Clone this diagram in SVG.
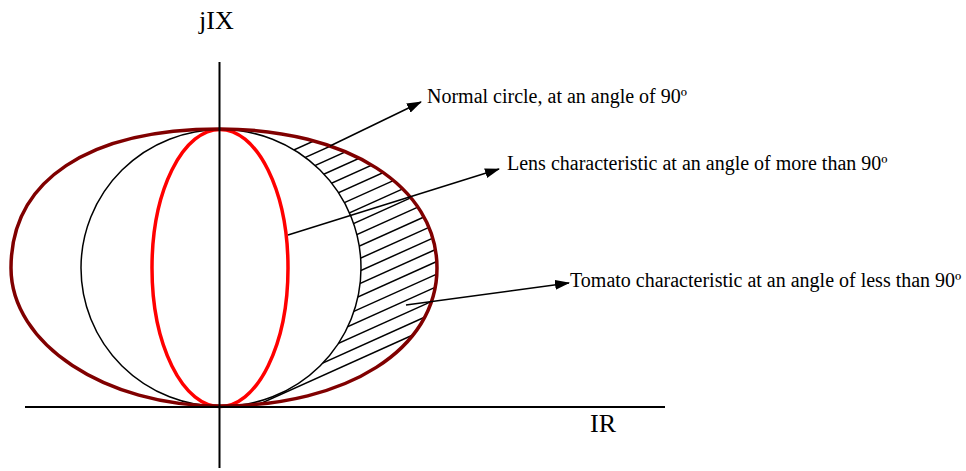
<svg xmlns="http://www.w3.org/2000/svg" width="966" height="471" viewBox="0 0 966 471">
  <style>
    .axis { stroke: #000; stroke-width: 2; fill: none; }
    .hatch { stroke: #000; stroke-width: 1.5; }
    .circle { stroke: #000; stroke-width: 1.5; fill: none; }
    .lens { stroke: #ff0000; stroke-width: 3.5; fill: none; }
    .tomato { stroke: #800000; stroke-width: 3.5; fill: none; }
    .conn { stroke: #000; stroke-width: 1.5; fill: none; marker-end: url(#arrow); }
    .lbl { font-family: "Liberation Serif", "Times New Roman", serif; font-size: 20px; fill: #000; }
    .ax { font-family: "Liberation Serif", "Times New Roman", serif; font-size: 26px; fill: #000; }
  </style>
  <defs>
    <marker id="arrow" markerUnits="userSpaceOnUse" markerWidth="15" markerHeight="10" viewBox="0 0 15 10" refX="14" refY="5" orient="auto">
      <path d="M0,0 L15,5 L0,10 Z" fill="#000"/>
    </marker>
    <clipPath id="hatchClip">
      <path clip-rule="evenodd" d="M220,129 C347.4,129 437,186.4 437,268 C437,349 347.4,406 220,406 Z M221,129.5 A140,138.5 0 0 1 221,406.5 Z"/>
    </clipPath>
  </defs>

  <g id="hatching" clip-path="url(#hatchClip)">
    <line class="hatch" x1="250" y1="169.7" x2="450" y2="79.7"/>
    <line class="hatch" x1="250" y1="182.3" x2="450" y2="92.3"/>
    <line class="hatch" x1="250" y1="194.8" x2="450" y2="104.8"/>
    <line class="hatch" x1="250" y1="207.4" x2="450" y2="117.4"/>
    <line class="hatch" x1="250" y1="219.9" x2="450" y2="129.9"/>
    <line class="hatch" x1="250" y1="232.5" x2="450" y2="142.5"/>
    <line class="hatch" x1="250" y1="245.1" x2="450" y2="155.1"/>
    <line class="hatch" x1="250" y1="257.6" x2="450" y2="167.6"/>
    <line class="hatch" x1="250" y1="270.2" x2="450" y2="180.2"/>
    <line class="hatch" x1="250" y1="282.7" x2="450" y2="192.7"/>
    <line class="hatch" x1="250" y1="295.3" x2="450" y2="205.3"/>
    <line class="hatch" x1="250" y1="307.9" x2="450" y2="217.9"/>
    <line class="hatch" x1="250" y1="320.4" x2="450" y2="230.4"/>
    <line class="hatch" x1="250" y1="333.0" x2="450" y2="243.0"/>
    <line class="hatch" x1="250" y1="345.5" x2="450" y2="255.5"/>
    <line class="hatch" x1="250" y1="358.1" x2="450" y2="268.1"/>
    <line class="hatch" x1="250" y1="370.7" x2="450" y2="280.7"/>
    <line class="hatch" x1="250" y1="383.2" x2="450" y2="293.2"/>
    <line class="hatch" x1="250" y1="395.8" x2="450" y2="305.8"/>
    <line class="hatch" x1="250" y1="408.3" x2="450" y2="318.3"/>
  </g>

  <g id="normal-circle">
    <ellipse class="circle" cx="221" cy="268" rx="140" ry="138.5"/>
  </g>

  <g id="lens-characteristic">
    <ellipse class="lens" cx="220" cy="268" rx="68" ry="138.5"/>
  </g>

  <g id="tomato-characteristic">
    <path class="tomato" d="M220,129 C88.3,129 11,180.4 11,268 C11,343.9 105,406 220,406 C347.4,406 437,349 437,268 C437,186.4 347.4,129 220,129 Z"/>
  </g>

  <g id="axes">
    <line class="axis" x1="219.5" y1="62" x2="219.5" y2="468"/>
    <line class="axis" x1="25" y1="407" x2="665" y2="407"/>
    <text class="ax" x="199" y="29">jIX</text>
    <text class="ax" x="590" y="432">IR</text>
  </g>

  <g id="connectors">
    <line class="conn" x1="330" y1="146" x2="421" y2="102"/>
    <line class="conn" x1="288" y1="235" x2="499" y2="169"/>
    <line class="conn" x1="406" y1="305" x2="569" y2="283"/>
  </g>

  <g id="label-normal">
    <text class="lbl" x="427" y="103">Normal circle, at an angle of 90º</text>
  </g>
  <g id="label-lens">
    <text class="lbl" x="507" y="170">Lens characteristic at an angle of more than 90º</text>
  </g>
  <g id="label-tomato">
    <text class="lbl" x="570" y="287">Tomato characteristic at an angle of less than 90º</text>
  </g>
</svg>
